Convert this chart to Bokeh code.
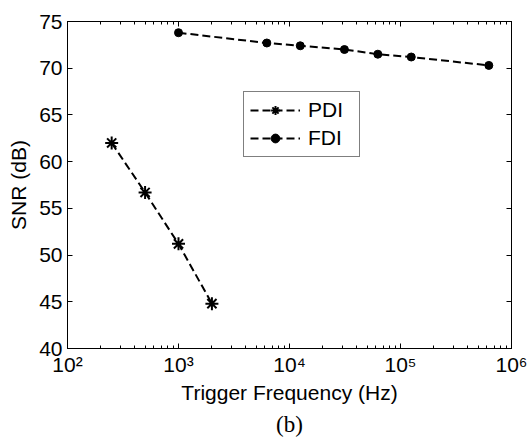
from bokeh.plotting import figure
from bokeh.models import (LogAxis, LinearAxis, LogTicker, FixedTicker, CustomJSTickFormatter,
                          Legend, LegendItem, Title, Range1d)
from bokeh.embed import file_html
from bokeh.resources import INLINE

# ---- data ----
pdi_freq = [250, 500, 1000, 2000]
pdi_snr = [62.0, 56.7, 51.2, 44.8]
fdi_freq = [1000, 6250, 12500, 31250, 62500, 125000, 625000]
fdi_snr = [73.8, 72.7, 72.4, 72.0, 71.5, 71.2, 70.3]
y_ticks = [40, 45, 50, 55, 60, 65, 70, 75]
x_label = "Trigger Frequency (Hz)"
y_label = "SNR (dB)"
series_names = ["PDI", "FDI"]
caption = "(b)"

FONT = "Liberation Sans"

p = figure(width=527, height=445, output_backend="svg", toolbar_location=None,
           x_axis_type="log", x_range=Range1d(1e2, 1e6), y_range=Range1d(40, 75),
           min_border_left=67, min_border_right=16, min_border_top=21, min_border_bottom=97,
           background_fill_color="white", border_fill_color="white")
p.grid.visible = False
p.outline_line_color = "black"
p.outline_line_width = 1

sup_fmt = CustomJSTickFormatter(code="""
const sups = {'0':'\\u2070','1':'\\u00b9','2':'\\u00b2','3':'\\u00b3','4':'\\u2074','5':'\\u2075','6':'\\u2076','7':'\\u2077','8':'\\u2078','9':'\\u2079','-':'\\u207b'};
const e = Math.round(Math.log10(tick)).toString();
return '10' + e.split('').map(c => sups[c]).join('');
""")
blank_fmt = CustomJSTickFormatter(code="return '';")

xa = p.xaxis[0]
xa.ticker = LogTicker(num_minor_ticks=10)
xa.formatter = sup_fmt
ya = p.yaxis[0]
ya.ticker = FixedTicker(ticks=y_ticks)

for ax in (xa, ya):
    ax.major_tick_in = 5
    ax.major_tick_out = 0
    ax.minor_tick_in = 3
    ax.minor_tick_out = 0
    ax.axis_line_color = "black"
    ax.major_tick_line_color = "black"
    ax.minor_tick_line_color = "black"
    ax.major_label_text_font = FONT
    ax.major_label_text_font_size = "21px"
    ax.major_label_text_color = "black"
    ax.axis_label_text_font = FONT
    ax.axis_label_text_font_size = "21px"
    ax.axis_label_text_font_style = "normal"
    ax.axis_label_text_color = "black"
ya.minor_tick_line_color = None
xa.axis_label = x_label
ya.axis_label = y_label
xa.major_label_standoff = 4
xa.axis_label_standoff = 2
ya.major_label_standoff = 5
ya.axis_label_standoff = 6

top = LogAxis(ticker=LogTicker(num_minor_ticks=10), formatter=blank_fmt,
              major_tick_in=5, major_tick_out=0, minor_tick_in=3, minor_tick_out=0,
              major_label_standoff=0,
              axis_line_color="black", major_tick_line_color="black", minor_tick_line_color="black")
right = LinearAxis(ticker=FixedTicker(ticks=y_ticks), formatter=blank_fmt,
                   major_tick_in=5, major_tick_out=0, minor_tick_line_color=None,
                   major_label_standoff=0,
                   axis_line_color="black", major_tick_line_color="black")
p.add_layout(top, "above")
p.add_layout(right, "right")

DASH = "8 4"
l1 = p.line(pdi_freq, pdi_snr, line_color="black", line_width=2, line_dash=DASH)
s1 = p.scatter(pdi_freq, pdi_snr, marker="asterisk", size=13, line_color="black", line_width=2)
l2 = p.line(fdi_freq, fdi_snr, line_color="black", line_width=2, line_dash=DASH)
s2 = p.scatter(fdi_freq, fdi_snr, marker="circle", size=8, fill_color="black", line_color="black")

legend = Legend(items=[LegendItem(label=series_names[0], renderers=[l1, s1]),
                       LegendItem(label=series_names[1], renderers=[l2, s2])],
                location=(176, 191), padding=6, spacing=4, margin=0,
                glyph_width=50, glyph_height=22, label_height=22, label_width=45,
                label_standoff=8, label_text_font=FONT, label_text_font_size="21px",
                label_text_color="black", border_line_color="black", border_line_width=1,
                background_fill_color="white", background_fill_alpha=1)
p.add_layout(legend, "center")

t = Title(text=caption, align="center", text_font="Liberation Serif", text_font_size="23px",
          text_font_style="normal", text_color="black", standoff=6)
p.add_layout(t, "below")

open("out.html", "w").write(file_html(p, INLINE))
